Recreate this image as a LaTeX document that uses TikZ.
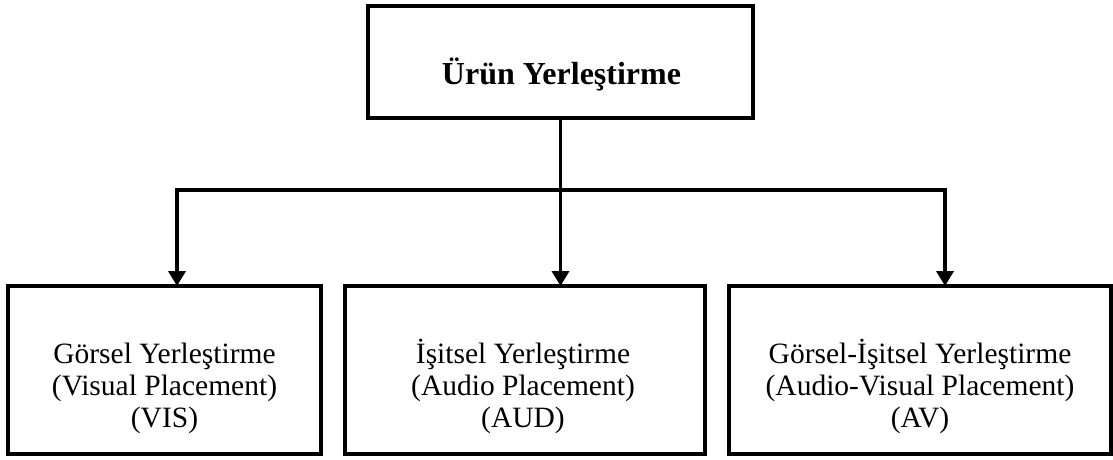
\documentclass[tikz,border=0pt]{standalone}
\usepackage{fontspec}
\setmainfont{Liberation Serif}
\usetikzlibrary{arrows.meta}

\tikzset{
  box/.style={draw=black, line width=4pt, fill=white, inner sep=0pt, outer sep=0pt},
  link/.style={line width=3.6pt},
  arr/.style={link, -{Triangle[width=17pt,length=15pt]}},
  headtext/.style={font=\fontsize{32}{36}\selectfont\bfseries, inner sep=0pt, anchor=base},
  % anchor=base of a multi-line node sits on its last line
  subtext/.style={font=\fontsize{29.5}{32}\selectfont, align=center, inner sep=0pt, anchor=base}
}

\begin{document}
\begin{tikzpicture}[x=1pt, y=-1pt]
  \useasboundingbox (0,0) rectangle (1113,459);

  % boxes
  \node[box, minimum width=385pt, minimum height=112pt] (top) at (560.5,62) {};
  \node[box, minimum width=313pt, minimum height=168pt] (b1) at (164.5,370) {};
  \node[box, minimum width=360pt, minimum height=168pt] (b2) at (525,370) {};
  \node[box, minimum width=382pt, minimum height=168pt] (b3) at (920,370) {};

  % texts
  \node[headtext] (ttop) at (561.5,84) {Ürün Yerleştirme};
  \node[subtext] (t1) at (164.5,427) {Görsel Yerleştirme\\(Visual Placement)\\(VIS)};
  \node[subtext] (t2) at (523,427) {İşitsel Yerleştirme\\(Audio Placement)\\(AUD)};
  \node[subtext] (t3) at (920,427) {Görsel-İşitsel Yerleştirme\\(Audio-Visual Placement)\\(AV)};

  % connectors
  \coordinate (jl) at (177,190);
  \coordinate (jr) at (945,190);
  \draw[link] ([xshift=-1.8pt]jl) -- ([xshift=1.8pt]jr);
  \draw[arr] (jl) -- (jl |- b1.north);
  \draw[arr] (jr) -- (jr |- b3.north);
  \draw[arr] (top.south) -- (top.south |- b2.north);
\end{tikzpicture}
\end{document}
